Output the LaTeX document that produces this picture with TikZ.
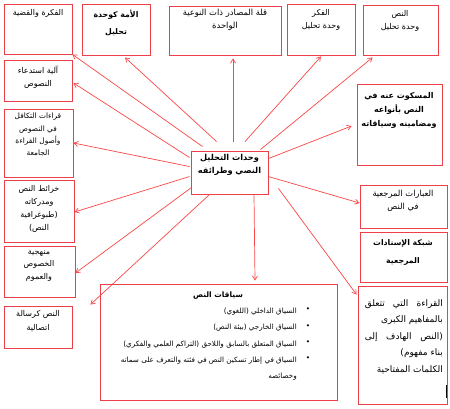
\documentclass[tikz,border=0pt]{standalone}
\usepackage{fontspec}
\newfontfamily\arabicfont[Script=Arabic]{DejaVu Sans}
\TeXXeTstate=1
\usetikzlibrary{fit,calc,arrows.meta}
\definecolor{boxred}{RGB}{236,64,72}
\definecolor{arrred}{RGB}{250,70,70}
\newcommand\artxt[1]{\beginR #1\endR}
\tikzset{
  box/.style={draw=boxred, line width=0.9pt, inner sep=0pt},
  reg/.style={font=\arabicfont\fontsize{8}{13}\selectfont, align=center, inner sep=0pt, anchor=north, text=black},
  bld/.style={font=\arabicfont\bfseries\fontsize{7.6}{17}\selectfont, align=center, inner sep=0pt, anchor=north, text=black},
  arr/.style={draw=arrred, line width=0.7pt, -{Straight Barb[length=4pt,width=5pt]}},
}
\begin{document}
\begin{tikzpicture}[x=1pt,y=-1pt]
\useasboundingbox (0,0) rectangle (450,408);
% boxes
\node[box, fit={(4,4) (72,54)}] (b1) {};
\node[box, fit={(82,4) (150,55)}] (b2) {};
\node[box, fit={(169,6) (281,55)}] (b3) {};
\node[box, fit={(287,4) (355,55)}] (b4) {};
\node[box, fit={(363,5) (438,55)}] (b5) {};
\node[box, fit={(4,60) (72,101)}] (b6) {};
\node[box, fit={(4,109) (73,177)}] (b7) {};
\node[box, fit={(4,180) (74,242)}] (b8) {};
\node[box, fit={(4,246) (75,297)}] (b9) {};
\node[box, fit={(4,306) (72,348)}] (b10) {};
\node[box, fit={(191,151) (268,194)}] (c) {};
\node[box, fit={(357,84) (442,165)}] (b12) {};
\node[box, fit={(360,185) (447,228)}] (b13) {};
\node[box, fit={(360,232) (447,282)}] (b14) {};
\node[box, fit={(358,286) (447,404)}] (b15) {};
\node[box, fit={(100,284) (337,400)}] (b16) {};
% texts
\node[reg] (t1) at (38,9) {\artxt{الفكرة والقضية}};
\node[bld, font=\arabicfont\bfseries\fontsize{7.8}{17}\selectfont] (t2) at (116,10) {\artxt{الأمة كوحدة}\\\artxt{تحليل}};
\node[reg, font=\arabicfont\fontsize{8.4}{13.5}\selectfont] (t3) at (225,8.5) {\artxt{قلة المصادر ذات النوعية}\\\artxt{الواحدة}};
\node[reg] (t4) at (321,9) {\artxt{الفكر}\\\artxt{وحدة تحليل}};
\node[reg] (t5) at (400,10) {\artxt{النص}\\\artxt{وحدة تحليل}};
\node[reg] (t6) at (38,66) {\artxt{آلية استدعاء}\\\artxt{النصوص}};
\node[reg, font=\arabicfont\fontsize{7.4}{12.3}\selectfont] (t7) at (38,113) {\artxt{قراءات التكافل}\\\artxt{في النصوص}\\\artxt{وأصول القراءة}\\\artxt{الجامعة}};
\node[reg] (t8) at (39,185) {\artxt{خرائط النص}\\\artxt{ومدركاته}\\\artxt{(طبوغرافية}\\\artxt{النص)}};
\node[reg, font=\arabicfont\fontsize{8}{12.5}\selectfont] (t9) at (39,250) {\artxt{منهجية}\\\artxt{الخصوص}\\\artxt{والعموم}};
\node[reg, font=\arabicfont\fontsize{8}{14}\selectfont] (t10) at (38,310) {\artxt{النص كرسالة}\\\artxt{اتصالية}};
\node[bld, font=\arabicfont\bfseries\fontsize{8.2}{13.5}\selectfont] (tc) at (229.5,154) {\artxt{وحدات التحليل}\\\artxt{النصي وطرائقه}};
\node[bld, font=\arabicfont\bfseries\fontsize{8}{14}\selectfont] (t12) at (399,92) {\artxt{المسكوت عنه في}\\\artxt{النص بأنواعه}\\\artxt{ومضامينه وسياقاته}};
\node[reg, font=\arabicfont\fontsize{8.3}{13}\selectfont] (t13) at (403,190) {\artxt{العبارات المرجعية}\\\artxt{في النص}};
\node[bld, font=\arabicfont\bfseries\fontsize{7.8}{18}\selectfont] (t14) at (403,239) {\artxt{شبكة الإسنادات}\\\artxt{المرجعية}};
\node[reg, anchor=north east, align=right, font=\arabicfont\fontsize{9}{16.5}\selectfont] (t15) at (443,299) {%
  \hbox to 78pt{\artxt{القراءة\hfill التي\hfill تتعلق}}\\
  \artxt{بالمفاهيم الكبرى}\\
  \hbox to 78pt{\artxt{(النص\hfill الهادف\hfill إلى}}\\
  \artxt{بناء مفهوم)}\\
  \artxt{الكلمات المفتاحية}};
\node[bld, font=\arabicfont\bfseries\fontsize{7.5}{17}\selectfont] (t16) at (218,291.5) {\artxt{سياقات النص}};
\node[reg, anchor=north east, align=right, font=\arabicfont\fontsize{7.2}{16.3}\selectfont] (t16a) at (297,308) {%
  \artxt{السياق الداخلي (اللغوي)}\\
  \artxt{السياق الخارجي (بيئة النص)}\\
  \artxt{السياق المتعلق بالسابق واللاحق (التراكم العلمي والفكري)}\\
  \artxt{السياق في إطار تسكين النص في فئته والتعرف على سماته}\\
  \artxt{وخصائصه}};
\node[reg, font=\arabicfont\fontsize{7.2}{16.3}\selectfont] (t16b) at (308,308) {•\\•\\•\\•};
% arrows
\draw[arr] ($(c.north west)+(12,-4)$) -- (b1.south east);
\draw[arr] ($(c.north west)+(26,-9)$) -- ($(b2.south)+(9,2)$);
\draw[arr] ($(c.north)+(3.5,-9)$) -- ($(b3.south)+(8,3)$);
\draw[arr] ($(c.north)+(15.5,-9)$) -- ($(b4.south)+(0,1)$);
\draw[arr] ($(c.north east)+(-8,-1)$) -- ($(b5.south west)+(10,2)$);
\draw[arr] ($(c.north west)+(-1,7)$) -- ($(b6.east)+(1,2.5)$);
\draw[arr] ($(c.north west)+(-1,16)$) -- ($(b7.east)+(0,0)$);
\draw[arr] ($(c.north west)+(-1,26)$) -- ($(b8.east)+(0,1)$);
\draw[arr] ($(c.south west)+(1,-7)$) -- ($(b9.east)+(0,1.5)$);
\draw[arr] ($(c.south west)+(19,0)$) -- ($(b10.north east)+(18,-1)$);
\draw[arr] ($(c.north east)+(0,8)$) -- ($(b12.west)+(-5,1.5)$);
\draw[arr] ($(c.north east)+(0,26)$) -- ($(b13.west)+(0,-3.5)$);
\draw[arr] ($(c.south)+(24.5,0)$) -- ($(b16.north)+(36.5,-3)$);
\draw[arr] ($(c.south east)+(10,-6)$) -- ($(b15.north west)+(-1,9)$);
\draw[black, line width=0.8pt] ($(b15.south east)+(-1.5,-19)$) -- ($(b15.south east)+(-1.5,-6)$);
\end{tikzpicture}
\end{document}
